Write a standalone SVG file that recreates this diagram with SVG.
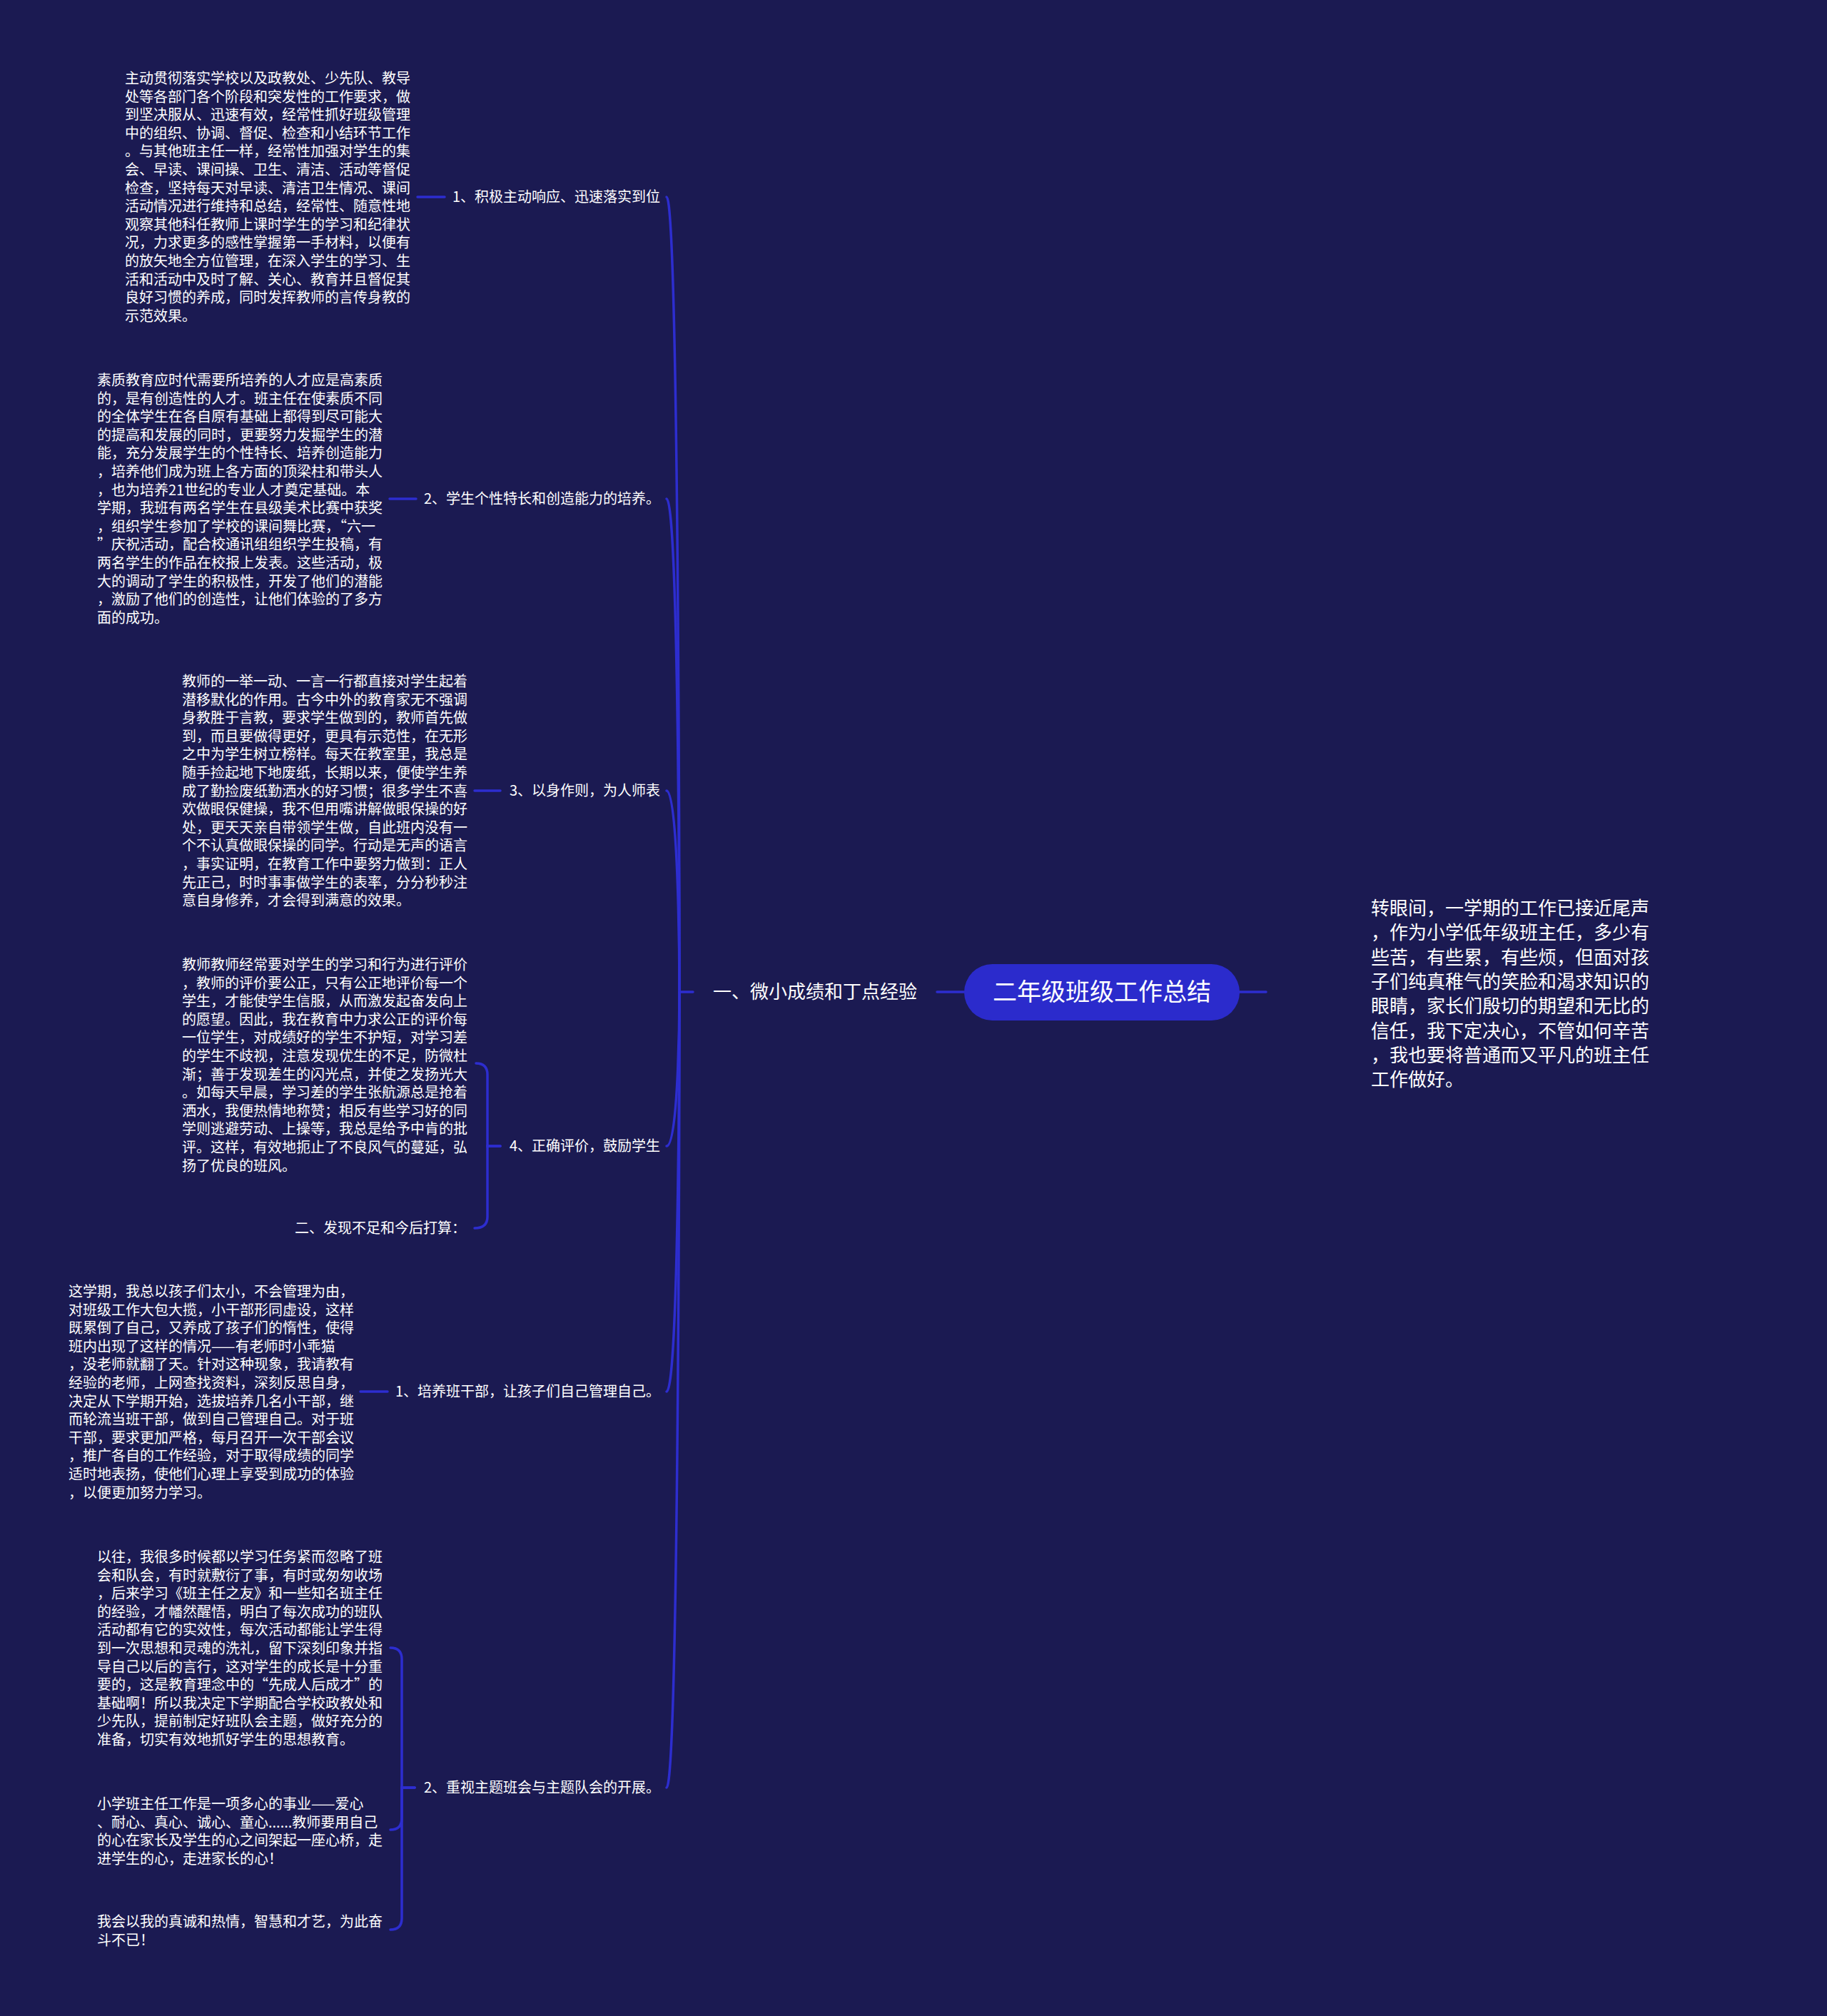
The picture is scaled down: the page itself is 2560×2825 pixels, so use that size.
<svg xmlns="http://www.w3.org/2000/svg" width="2560" height="2825" viewBox="0 0 2560 2825">
<style>
.bg{fill:#1b1a52}
.ln{fill:none;stroke:#2d2dcf;stroke-width:3.5;stroke-linecap:round}
.t{font-family:"Noto Sans CJK SC","Noto Sans",sans-serif;fill:#ffffff}
.blk{font-size:20px}
.lbl{font-size:20px;text-anchor:end}
.big{font-size:26px}
.root{font-size:34px;text-anchor:middle}
</style>
<rect class="bg" x="0" y="0" width="2560" height="2825"/>
<g id="connectors">
<line class="ln" x1="1737" y1="1390" x2="1774" y2="1390"/>
<line class="ln" x1="1313" y1="1390" x2="1351" y2="1390"/>
<line class="ln" x1="971" y1="1390" x2="952" y2="1390"/>
<path class="ln" d="M952 1390 C952 1390 952 276 934 276"/>
<path class="ln" d="M952 1390 C952 1390 952 699 934 699"/>
<path class="ln" d="M952 1390 C952 1390 952 1108 934 1108"/>
<path class="ln" d="M952 1390 C952 1390 952 1606 934 1606"/>
<path class="ln" d="M952 1390 C952 1390 952 1950 934 1950"/>
<path class="ln" d="M952 1390 C952 1390 952 2505 934 2505"/>
<line class="ln" x1="585" y1="276" x2="623" y2="276"/>
<line class="ln" x1="546" y1="699" x2="583" y2="699"/>
<line class="ln" x1="665" y1="1108" x2="701" y2="1108"/>
<line class="ln" x1="505" y1="1950" x2="543" y2="1950"/>
<path class="ln" d="M701 1606 L683 1606 L683 1506 Q683 1490 667 1490"/>
<path class="ln" d="M701 1606 L683 1606 L683 1705 Q683 1721 665 1721"/>
<path class="ln" d="M581 2505 L563 2505 L563 2325 Q563 2309 547 2309"/>
<path class="ln" d="M581 2505 L563 2505 L563 2548 Q563 2564 547 2564"/>
<path class="ln" d="M581 2505 L563 2505 L563 2688 Q563 2704 547 2704"/>
</g>
<g id="root">
<rect x="1351" y="1351" width="386" height="79" rx="39.5" fill="#2b2bcc"/>
<text class="t root" x="1544" y="1402">二年级班级工作总结</text>
</g>
<g id="intro">
<text class="t big" x="1921" y="1282"><tspan x="1921">转眼间，一学期的工作已接近尾声</tspan><tspan x="1921" dy="34.3">，作为小学低年级班主任，多少有</tspan><tspan x="1921" dy="34.3">些苦，有些累，有些烦，但面对孩</tspan><tspan x="1921" dy="34.3">子们纯真稚气的笑脸和渴求知识的</tspan><tspan x="1921" dy="34.3">眼睛，家长们殷切的期望和无比的</tspan><tspan x="1921" dy="34.3">信任，我下定决心，不管如何辛苦</tspan><tspan x="1921" dy="34.3">，我也要将普通而又平凡的班主任</tspan><tspan x="1921" dy="34.3">工作做好。</tspan></text>
</g>
<g id="branch1">
<text class="t big" x="999" y="1399">一、微小成绩和丁点经验</text>
</g>
<g id="sub1">
<text class="t lbl" x="925" y="283">1、积极主动响应、迅速落实到位</text>
</g>
<g id="sub1-text">
<text class="t blk" x="175" y="117"><tspan x="175">主动贯彻落实学校以及政教处、少先队、教导</tspan><tspan x="175" dy="25.6">处等各部门各个阶段和突发性的工作要求，做</tspan><tspan x="175" dy="25.6">到坚决服从、迅速有效，经常性抓好班级管理</tspan><tspan x="175" dy="25.6">中的组织、协调、督促、检查和小结环节工作</tspan><tspan x="175" dy="25.6">。与其他班主任一样，经常性加强对学生的集</tspan><tspan x="175" dy="25.6">会、早读、课间操、卫生、清洁、活动等督促</tspan><tspan x="175" dy="25.6">检查，坚持每天对早读、清洁卫生情况、课间</tspan><tspan x="175" dy="25.6">活动情况进行维持和总结，经常性、随意性地</tspan><tspan x="175" dy="25.6">观察其他科任教师上课时学生的学习和纪律状</tspan><tspan x="175" dy="25.6">况，力求更多的感性掌握第一手材料，以便有</tspan><tspan x="175" dy="25.6">的放矢地全方位管理，在深入学生的学习、生</tspan><tspan x="175" dy="25.6">活和活动中及时了解、关心、教育并且督促其</tspan><tspan x="175" dy="25.6">良好习惯的养成，同时发挥教师的言传身教的</tspan><tspan x="175" dy="25.6">示范效果。</tspan></text>
</g>
<g id="sub2">
<text class="t lbl" x="925" y="706">2、学生个性特长和创造能力的培养。</text>
</g>
<g id="sub2-text">
<text class="t blk" x="136" y="540"><tspan x="136">素质教育应时代需要所培养的人才应是高素质</tspan><tspan x="136" dy="25.6">的，是有创造性的人才。班主任在使素质不同</tspan><tspan x="136" dy="25.6">的全体学生在各自原有基础上都得到尽可能大</tspan><tspan x="136" dy="25.6">的提高和发展的同时，更要努力发掘学生的潜</tspan><tspan x="136" dy="25.6">能，充分发展学生的个性特长、培养创造能力</tspan><tspan x="136" dy="25.6">，培养他们成为班上各方面的顶梁柱和带头人</tspan><tspan x="136" dy="25.6">，也为培养21世纪的专业人才奠定基础。本</tspan><tspan x="136" dy="25.6">学期，我班有两名学生在县级美术比赛中获奖</tspan><tspan x="136" dy="25.6">，组织学生参加了学校的课间舞比赛，“六一</tspan><tspan x="136" dy="25.6">”庆祝活动，配合校通讯组组织学生投稿，有</tspan><tspan x="136" dy="25.6">两名学生的作品在校报上发表。这些活动，极</tspan><tspan x="136" dy="25.6">大的调动了学生的积极性，开发了他们的潜能</tspan><tspan x="136" dy="25.6">，激励了他们的创造性，让他们体验的了多方</tspan><tspan x="136" dy="25.6">面的成功。</tspan></text>
</g>
<g id="sub3">
<text class="t lbl" x="925" y="1115">3、以身作则，为人师表</text>
</g>
<g id="sub3-text">
<text class="t blk" x="255" y="962"><tspan x="255">教师的一举一动、一言一行都直接对学生起着</tspan><tspan x="255" dy="25.6">潜移默化的作用。古今中外的教育家无不强调</tspan><tspan x="255" dy="25.6">身教胜于言教，要求学生做到的，教师首先做</tspan><tspan x="255" dy="25.6">到，而且要做得更好，更具有示范性，在无形</tspan><tspan x="255" dy="25.6">之中为学生树立榜样。每天在教室里，我总是</tspan><tspan x="255" dy="25.6">随手捡起地下地废纸，长期以来，便使学生养</tspan><tspan x="255" dy="25.6">成了勤捡废纸勤洒水的好习惯；很多学生不喜</tspan><tspan x="255" dy="25.6">欢做眼保健操，我不但用嘴讲解做眼保操的好</tspan><tspan x="255" dy="25.6">处，更天天亲自带领学生做，自此班内没有一</tspan><tspan x="255" dy="25.6">个不认真做眼保操的同学。行动是无声的语言</tspan><tspan x="255" dy="25.6">，事实证明，在教育工作中要努力做到：正人</tspan><tspan x="255" dy="25.6">先正己，时时事事做学生的表率，分分秒秒注</tspan><tspan x="255" dy="25.6">意自身修养，才会得到满意的效果。</tspan></text>
</g>
<g id="sub4">
<text class="t lbl" x="925" y="1613">4、正确评价，鼓励学生</text>
</g>
<g id="sub4-text">
<text class="t blk" x="255" y="1359"><tspan x="255">教师教师经常要对学生的学习和行为进行评价</tspan><tspan x="255" dy="25.6">，教师的评价要公正，只有公正地评价每一个</tspan><tspan x="255" dy="25.6">学生，才能使学生信服，从而激发起奋发向上</tspan><tspan x="255" dy="25.6">的愿望。因此，我在教育中力求公正的评价每</tspan><tspan x="255" dy="25.6">一位学生，对成绩好的学生不护短，对学习差</tspan><tspan x="255" dy="25.6">的学生不歧视，注意发现优生的不足，防微杜</tspan><tspan x="255" dy="25.6">渐；善于发现差生的闪光点，并使之发扬光大</tspan><tspan x="255" dy="25.6">。如每天早晨，学习差的学生张航源总是抢着</tspan><tspan x="255" dy="25.6">洒水，我便热情地称赞；相反有些学习好的同</tspan><tspan x="255" dy="25.6">学则逃避劳动、上操等，我总是给予中肯的批</tspan><tspan x="255" dy="25.6">评。这样，有效地扼止了不良风气的蔓延，弘</tspan><tspan x="255" dy="25.6">扬了优良的班风。</tspan></text>
</g>
<g id="branch2">
<text class="t blk" x="653" y="1728" text-anchor="end">二、发现不足和今后打算：</text>
</g>
<g id="sub5">
<text class="t lbl" x="925" y="1957">1、培养班干部，让孩子们自己管理自己。</text>
</g>
<g id="sub5-text">
<text class="t blk" x="96" y="1817"><tspan x="96">这学期，我总以孩子们太小，不会管理为由，</tspan><tspan x="96" dy="25.6">对班级工作大包大揽，小干部形同虚设，这样</tspan><tspan x="96" dy="25.6">既累倒了自己，又养成了孩子们的惰性，使得</tspan><tspan x="96" dy="25.6">班内出现了这样的情况——有老师时小乖猫</tspan><tspan x="96" dy="25.6">，没老师就翻了天。针对这种现象，我请教有</tspan><tspan x="96" dy="25.6">经验的老师，上网查找资料，深刻反思自身，</tspan><tspan x="96" dy="25.6">决定从下学期开始，选拔培养几名小干部，继</tspan><tspan x="96" dy="25.6">而轮流当班干部，做到自己管理自己。对于班</tspan><tspan x="96" dy="25.6">干部，要求更加严格，每月召开一次干部会议</tspan><tspan x="96" dy="25.6">，推广各自的工作经验，对于取得成绩的同学</tspan><tspan x="96" dy="25.6">适时地表扬，使他们心理上享受到成功的体验</tspan><tspan x="96" dy="25.6">，以便更加努力学习。</tspan></text>
</g>
<g id="sub6">
<text class="t lbl" x="925" y="2512">2、重视主题班会与主题队会的开展。</text>
</g>
<g id="sub6-text1">
<text class="t blk" x="136" y="2189"><tspan x="136">以往，我很多时候都以学习任务紧而忽略了班</tspan><tspan x="136" dy="25.6">会和队会，有时就敷衍了事，有时或匆匆收场</tspan><tspan x="136" dy="25.6">，后来学习《班主任之友》和一些知名班主任</tspan><tspan x="136" dy="25.6">的经验，才幡然醒悟，明白了每次成功的班队</tspan><tspan x="136" dy="25.6">活动都有它的实效性，每次活动都能让学生得</tspan><tspan x="136" dy="25.6">到一次思想和灵魂的洗礼，留下深刻印象并指</tspan><tspan x="136" dy="25.6">导自己以后的言行，这对学生的成长是十分重</tspan><tspan x="136" dy="25.6">要的，这是教育理念中的“先成人后成才”的</tspan><tspan x="136" dy="25.6">基础啊！所以我决定下学期配合学校政教处和</tspan><tspan x="136" dy="25.6">少先队，提前制定好班队会主题，做好充分的</tspan><tspan x="136" dy="25.6">准备，切实有效地抓好学生的思想教育。</tspan></text>
</g>
<g id="sub6-text2">
<text class="t blk" x="136" y="2535"><tspan x="136">小学班主任工作是一项多心的事业——爱心</tspan><tspan x="136" dy="25.6">、耐心、真心、诚心、童心......教师要用自己</tspan><tspan x="136" dy="25.6">的心在家长及学生的心之间架起一座心桥，走</tspan><tspan x="136" dy="25.6">进学生的心，走进家长的心！</tspan></text>
</g>
<g id="sub6-text3">
<text class="t blk" x="136" y="2700"><tspan x="136">我会以我的真诚和热情，智慧和才艺，为此奋</tspan><tspan x="136" dy="25.6">斗不已！</tspan></text>
</g>
</svg>
